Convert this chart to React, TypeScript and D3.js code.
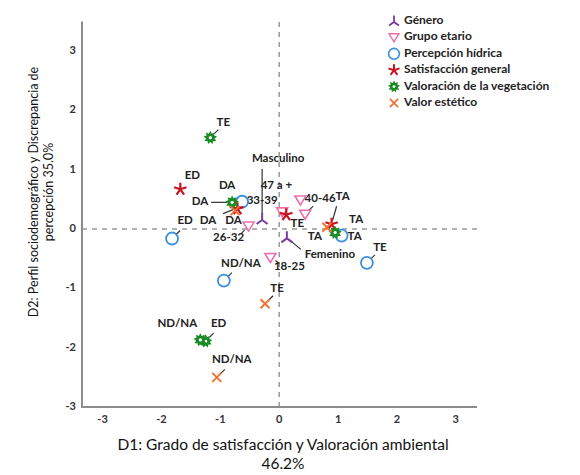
import { useEffect, useRef } from 'react'
import * as d3 from 'd3'

// series names (legend order)
const seriesNames = [
  'Género',
  'Grupo etario',
  'Percepción hídrica',
  'Satisfacción general',
  'Valoración de la vegetación',
  'Valor estético',
]

// category points per series: [label, D1, D2]
const genero: [string, number, number][] = [
  ['Masculino', -0.29, 0.17],
  ['Femenino', 0.13, -0.14],
]
const grupoEtario: [string, number, number][] = [
  ['18-25', -0.15, -0.48],
  ['26-32', -0.52, 0.05],
  ['33-39', 0.05, 0.29],
  ['40-46', 0.44, 0.25],
  ['47 a +', 0.36, 0.49],
]
const percepcionHidrica: [string, number, number][] = [
  ['DA', -0.63, 0.46],
  ['ED', -1.82, -0.16],
  ['ND/NA', -0.94, -0.87],
  ['TA', 1.06, -0.11],
  ['TE', 1.49, -0.57],
]
const satisfaccion: [string, number, number][] = [
  ['DA', -0.71, 0.34],
  ['ED', -1.68, 0.67],
  ['TA', 0.89, 0.08],
  ['TE', 0.12, 0.24],
]
const vegetacion: [string, number, number][] = [
  ['DA', -0.8, 0.45],
  ['ED', -1.25, -1.89],
  ['ND/NA', -1.34, -1.87],
  ['TA', 0.95, -0.06],
  ['TE', -1.17, 1.54],
]
const valorEstetico: [string, number, number][] = [
  ['DA', -0.75, 0.31],
  ['ND/NA', -1.06, -2.5],
  ['TA', 0.81, 0.03],
  ['TE', -0.24, -1.26],
]

const xTicks = [-3, -2, -1, 0, 1, 2, 3]
const yTicks = [-3, -2, -1, 0, 1, 2, 3]

const allSeries = [genero, grupoEtario, percepcionHidrica, satisfaccion, vegetacion, valorEstetico]
const colors = ['#7a3b9e', '#ee6fa8', '#3b8fe0', '#c8141e', '#1a8a22', '#f07033']

// label placement: [dx, dy, leader?] relative to the point (px)
type Lab = { dx: number; dy: number; lead?: [number, number, number, number] }
const tick: [number, number, number, number] = [4, -4, 8, -8]
const labelLayout: Record<string, Lab> = {
  '0|Masculino': { dx: 16, dy: -60, lead: [0, -6, 0, -50] },
  '0|Femenino': { dx: 43, dy: 18, lead: [2, 2, 14, 12] },
  '1|18-25': { dx: 19, dy: 10, lead: [5, 3, 9, 6] },
  '1|26-32': { dx: -20, dy: 12, lead: [-4, 4, -8, 8] },
  '1|33-39': { dx: -20, dy: -11 },
  '1|40-46': { dx: 15, dy: -15, lead: tick },
  '1|47 a +': { dx: -24, dy: -14 },
  '2|DA': { dx: -15, dy: -16 },
  '2|ED': { dx: 13, dy: -17, lead: tick },
  '2|ND/NA': { dx: 17, dy: -17, lead: tick },
  '2|TA': { dx: 13, dy: 1 },
  '2|TE': { dx: 13, dy: -15, lead: tick },
  '3|DA': { dx: -4, dy: 12 },
  '3|ED': { dx: 12, dy: -13 },
  '3|TA': { dx: 11, dy: -27, lead: [1, -4, 5, -18] },
  '3|TE': { dx: 11, dy: 9 },
  '4|DA': { dx: -32, dy: 0, lead: [-5, 0, -21, 0] },
  '4|ED': { dx: 13, dy: -17, lead: tick },
  '4|ND/NA': { dx: -23, dy: -16 },
  '4|TA': { dx: 21, dy: -13 },
  '4|TE': { dx: 13, dy: -15, lead: tick },
  '5|DA': { dx: -27, dy: 10, lead: [-12, 3, -2, -1] },
  '5|ND/NA': { dx: 15, dy: -17, lead: tick },
  '5|TA': { dx: -12, dy: 10 },
  '5|TE': { dx: 12, dy: -15, lead: tick },
}

function starPath(points: number, outer: number, inner: number) {
  const pts: [number, number][] = []
  for (let i = 0; i < points * 2; i++) {
    const r = i % 2 === 0 ? outer : inner
    const a = (Math.PI * i) / points - Math.PI / 2
    pts.push([r * Math.cos(a), r * Math.sin(a)])
  }
  return d3.line()(pts) + 'Z'
}

// draw one marker of series s into g
function drawMarker(g: any, s: number) {
  const c = colors[s]
  if (s === 0) {
    g.append('path').attr('d', 'M0,-6L0,1M0,1L-5.5,5M0,1L5.5,5')
      .attr('stroke', c).attr('stroke-width', 2).attr('fill', 'none')
  } else if (s === 1) {
    g.append('path').attr('d', 'M-5.5,-4L5.5,-4L0,5Z')
      .attr('stroke', c).attr('stroke-width', 1.6).attr('fill', 'none')
  } else if (s === 2) {
    g.append('circle').attr('r', 6)
      .attr('stroke', c).attr('stroke-width', 1.8).attr('fill', 'none')
  } else if (s === 3) {
    const d = d3.range(5).map((i) => {
      const a = (Math.PI * 2 * i) / 5 - Math.PI / 2
      return `M0,0L${6.5 * Math.cos(a)},${6.5 * Math.sin(a)}`
    }).join('')
    g.append('path').attr('d', d).attr('stroke', c).attr('stroke-width', 2.2).attr('fill', 'none')
  } else if (s === 4) {
    g.append('path').attr('d', starPath(9, 6.8, 4.3)).attr('fill', c)
    g.append('circle').attr('r', 1.6).attr('fill', '#fff')
  } else {
    g.append('path').attr('d', 'M-4.5,-4.5L4.5,4.5M-4.5,4.5L4.5,-4.5')
      .attr('stroke', c).attr('stroke-width', 1.9).attr('fill', 'none')
  }
}

export default function App() {
  const ref = useRef<SVGSVGElement>(null)

  useEffect(() => {
    if (!ref.current) return
    const svg = d3.select(ref.current)
    svg.selectAll('*').remove()

    const font = 'Lato, "Open Sans", sans-serif'
    const x = d3.scaleLinear().domain([-3.35, 3.36]).range([82, 477])
    const y = d3.scaleLinear().domain([-3, 3.5]).range([407, 21.4])

    // reference lines
    svg.append('line')
      .attr('x1', x(0)).attr('x2', x(0)).attr('y1', y(-3)).attr('y2', y(3.5))
      .attr('stroke', '#999').attr('stroke-width', 1.5).attr('stroke-dasharray', '5,5')
    svg.append('line')
      .attr('x1', x(-3.35)).attr('x2', x(3.36)).attr('y1', y(0)).attr('y2', y(0))
      .attr('stroke', '#999').attr('stroke-width', 1.5).attr('stroke-dasharray', '5,5')

    // axes frame
    svg.append('path')
      .attr('d', `M${x(-3.35)},${y(3.5)}V${y(-3)}H${x(3.36)}`)
      .attr('stroke', '#8c8c8c').attr('stroke-width', 2).attr('fill', 'none')

    svg.append('g').selectAll('text').data(xTicks).enter().append('text')
      .attr('x', (d) => x(d)).attr('y', 420)
      .attr('text-anchor', 'middle').attr('dominant-baseline', 'middle')
      .style('font-family', font).style('font-size', '11px').style('font-weight', 700)
      .attr('fill', '#333').text((d) => d)
    svg.append('g').selectAll('text').data(yTicks).enter().append('text')
      .attr('x', 76).attr('y', (d) => y(d))
      .attr('text-anchor', 'end').attr('dominant-baseline', 'middle')
      .style('font-family', font).style('font-size', '11px').style('font-weight', 700)
      .attr('fill', '#333').text((d) => d)

    // axis titles
    const xt = svg.append('text').attr('text-anchor', 'middle')
      .style('font-family', font).style('font-size', '15.5px').attr('fill', '#111')
    xt.append('tspan').attr('x', 283).attr('y', 450).text('D1: Grado de satisfacción y Valoración ambiental')
    xt.append('tspan').attr('x', 283).attr('y', 469).text('46.2%')
    const yt = svg.append('text').attr('text-anchor', 'middle')
      .attr('transform', 'rotate(-90)')
      .style('font-family', font).style('font-size', '12.5px').attr('fill', '#111')
    yt.append('tspan').attr('x', -192).attr('y', 38).text('D2: Perfil sociodemográfico y Discrepancia de')
    yt.append('tspan').attr('x', -192).attr('y', 53).text('percepción 35.0%')

    // points + labels
    const labels = svg.append('g')
    const marks = svg.append('g')
    allSeries.forEach((pts, s) => {
      pts.forEach(([name, vx, vy]) => {
        const px = x(vx)
        const py = y(vy)
        const lab = labelLayout[`${s}|${name}`] || { dx: 10, dy: -12 }
        if (lab.lead) {
          labels.append('line')
            .attr('x1', px + lab.lead[0]).attr('y1', py + lab.lead[1])
            .attr('x2', px + lab.lead[2]).attr('y2', py + lab.lead[3])
            .attr('stroke', '#333').attr('stroke-width', 1.2)
        }
        labels.append('text')
          .attr('x', px + lab.dx).attr('y', py + lab.dy)
          .attr('text-anchor', 'middle').attr('dominant-baseline', 'middle')
          .style('font-family', font).style('font-size', '11.5px').style('font-weight', 700)
          .attr('fill', '#222').text(name)
        drawMarker(marks.append('g').attr('transform', `translate(${px},${py})`), s)
      })
    })

    // legend
    const leg = svg.append('g')
    seriesNames.forEach((n, i) => {
      const ly = 21 + i * 16.4
      drawMarker(leg.append('g').attr('transform', `translate(394,${ly}) scale(0.9)`), i)
      leg.append('text').attr('x', 404).attr('y', ly)
        .attr('dominant-baseline', 'middle')
        .style('font-family', font).style('font-size', '12px').style('font-weight', 700)
        .attr('fill', '#222').text(n)
    })
  }, [])

  return (
    <svg ref={ref} width={580} height={475}
      style={{ position: 'absolute', left: 0, top: 0, background: '#fff' }} />
  )
}
